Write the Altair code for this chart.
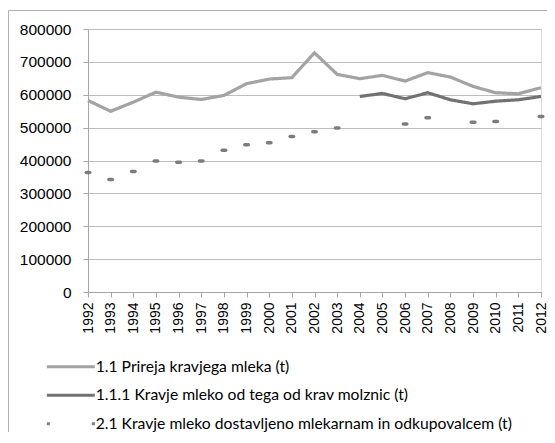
import altair as alt
import pandas as pd

years = [str(y) for y in range(1992, 2013)]

s1_name = "1.1 Prireja kravjega mleka (t)"
s2_name = "1.1.1 Kravje mleko od tega od krav molznic (t)"
s3_name = "2.1 Kravje mleko dostavljeno mlekarnam in odkupovalcem (t)"

s1 = [582600, 549800, 577400, 608000, 592700, 585600, 597900, 633600, 647700, 652000,
      727500, 662100, 648900, 659000, 641600, 667300, 653800, 625400, 606100, 603000, 621400]
s2 = [None] * 12 + [594800, 604000, 587800, 606100, 584700, 572500, 580400, 584700, 594800]
s3 = [363400, 342100, 366500, 398800, 394800, 398800, 431400, 447600, 453700, 473200,
      487200, 498800, None, None, 511000, 530300, None, 516000, 519000, None, 534000]

names = [s1_name, s2_name, s3_name]
colors = ["#a3a3a3", "#727272", "#7c7c7c"]

rows = []
for y, v in zip(years, s1):
    rows.append({"year": y, "value": v, "series": s1_name})
for y, v in zip(years, s2):
    if v is not None:
        rows.append({"year": y, "value": v, "series": s2_name})
lines_df = pd.DataFrame(rows)
dots_df = pd.DataFrame([{"year": y, "value": v} for y, v in zip(years, s3) if v is not None])

xenc = alt.X("year:O", scale=alt.Scale(type="point", padding=0, domain=years),
             axis=alt.Axis(title=None, labelAngle=-90, labelAlign="right", labelBaseline="middle",
                           labelFont="Liberation Sans", labelFontSize=14, labelColor="#000",
                           tickColor="#a6a6a6", tickSize=5, labelPadding=5,
                           domainColor="#a6a6a6", grid=False))
yscale = alt.Scale(domain=[0, 800000], nice=False)
yaxis = alt.Axis(title=None, values=list(range(0, 800001, 100000)), format="d",
                 labelFont="Liberation Sans", labelFontSize=15.5, labelColor="#000",
                 tickColor="#a6a6a6", tickSize=5, labelPadding=12,
                 domainColor="#a6a6a6", gridColor="#bdbdbd", gridWidth=1)

frame = alt.Chart(alt.Data(values=[{"a": 1}])).mark_rect(
    fill=None, stroke="#b0b0b0", strokeWidth=1
).encode(x=alt.value(-79.5), x2=alt.value(480), y=alt.value(-18.5), y2=alt.value(600))

lines = alt.Chart(lines_df).mark_line(strokeWidth=3.2).encode(
    x=xenc,
    y=alt.Y("value:Q", scale=yscale, axis=yaxis),
    color=alt.Color("series:N", scale=alt.Scale(domain=names, range=colors),
                    legend=alt.Legend(title=None, orient="none", legendX=-43, legendY=330,
                                      direction="vertical", symbolType="M-1,0L7,0",
                                      symbolSize=144, symbolStrokeWidth=3,
                                      labelFont="Lato", labelFontSize=15.7, labelColor="#000",
                                      labelOffset=35, rowPadding=11.5, labelLimit=500)),
    strokeDash=alt.StrokeDash("series:N", scale=alt.Scale(domain=names, range=[[1, 0], [1, 0], [3, 42]]),
                              legend=None),
    order=alt.Order("year:O"),
)

dots = alt.Chart(dots_df).mark_point(
    shape="M-1,0L1,0", filled=False, size=12, strokeWidth=3.5, strokeCap="round", color="#7c7c7c", opacity=1
).encode(x=xenc, y=alt.Y("value:Q", scale=yscale, axis=yaxis))

chart = alt.layer(frame, lines, dots).properties(
    width=453, height=263,
    autosize=alt.AutoSizeParams(type="none"),
    padding={"left": 80, "top": 21, "right": 6, "bottom": 140},
).configure_view(stroke=None).configure(background="#ffffff")

chart.save("out.html", embed_options={"renderer": "svg", "actions": False})
